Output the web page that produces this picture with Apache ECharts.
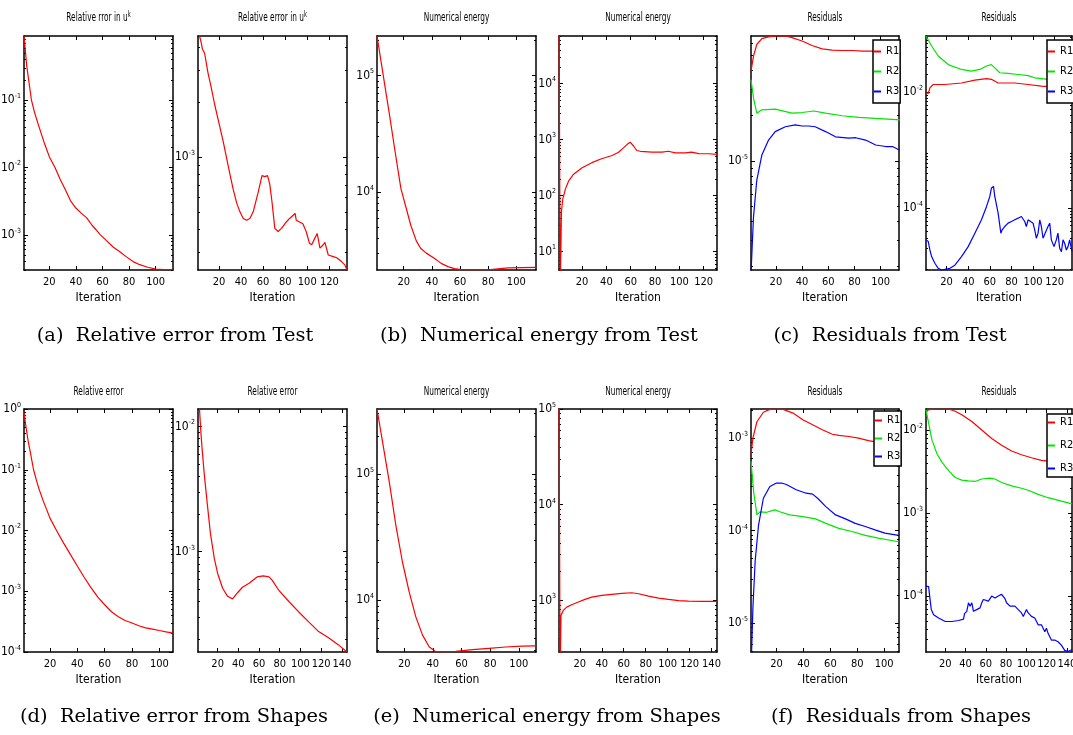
<!DOCTYPE html>
<html><head><meta charset="utf-8">
<script src="https://cdn.jsdelivr.net/npm/echarts@6/dist/echarts.min.js"></script>
<style>html,body{margin:0;padding:0;background:#fff}#c{width:1073px;height:735px}</style>
</head><body><div id="c"></div>
<script>
// ---------- tick labels ----------
const xTicksShort = [20, 40, 60, 80, 100];
const xTicksLong1 = [20, 40, 60, 80, 100, 120];
const xTicksLong2 = [20, 40, 60, 80, 100, 120, 140];
const yTicksA1 = [0.1, 0.01, 0.001];
const yTicksA2 = [0.001];
const yTicksB1 = [1e4, 1e5];
const yTicksB2 = [10, 100, 1000, 1e4];
const yTicksC1 = [1e-5];
const yTicksC2 = [0.01, 1e-4];
const yTicksD1 = [1, 0.1, 0.01, 0.001, 1e-4];
const yTicksD2 = [0.01, 0.001];
const yTicksE1 = [1e4, 1e5];
const yTicksE2 = [1e3, 1e4, 1e5];
const yTicksF1 = [1e-3, 1e-4, 1e-5];
const yTicksF2 = [1e-2, 1e-3, 1e-4];

// ---------- data: [iteration, value] ----------
const relErrTestL = [[1,0.9],[2,0.55],[3,0.33],[4.5,0.2],[6.6,0.1],[9,0.065],[12,0.042],[16,0.024],[20,0.0145],[24.3,0.01],[28,0.0068],[32,0.0047],[36,0.0032],[40,0.0025],[44,0.0021],[48,0.0018],[52,0.0014],[55,0.0012],[58.4,0.001],[63,0.00082],[68,0.00066],[73,0.00056],[78,0.00047],[83,0.0004],[88,0.00036],[94,0.00033],[100,0.00031],[106,0.000305],[113,0.0003]];
const relErrTestR = [[1,0.0052],[2.4,0.0046],[4,0.0042],[5,0.0039],[7,0.0037],[10,0.0029],[13,0.0024],[16,0.00195],[20,0.00153],[24,0.0012],[27,0.00098],[30,0.0008],[33,0.00066],[36,0.00056],[39,0.0005],[42,0.00046],[45,0.00045],[48,0.00046],[51,0.0005],[55.5,0.00064],[59,0.00079],[61.5,0.00078],[64,0.00079],[66,0.00071],[68,0.00057],[70.6,0.000406],[73.6,0.00039],[76.7,0.000406],[81,0.00044],[84,0.00046],[89,0.00049],[90,0.00045],[93,0.00044],[96,0.00043],[99,0.00039],[102,0.000336],[104,0.00033],[107,0.00036],[109,0.00038],[111.5,0.000316],[114.5,0.00033],[116,0.00034],[119,0.00029],[123.6,0.000284],[126.7,0.00028],[131,0.000267],[134,0.000256],[136,0.00024]];
const energyTestL = [[1,2.18e5],[4,1.29e5],[7,7.6e4],[10,4.5e4],[13,2.6e4],[16,1.52e4],[18,1.07e4],[22,7100],[25,5200],[29,3800],[32,3300],[36,3000],[42,2700],[46.6,2450],[51.4,2300],[56,2210],[61,2170],[68,2152],[75,2152],[80,2160],[87,2200],[94,2240],[103.6,2255],[114,2260]];
const energyTestR = [[1,2e5],[2,2],[3,51],[4.1,87],[6.3,132],[9,184],[13,242],[20,316],[28,388],[36,456],[44.7,522],[50,597],[54,713],[57.8,850],[59.7,897],[62.5,763],[65,640],[68,620],[77.5,597],[85.8,598],[91,620],[96.7,580],[105,580],[110,600],[116,565],[124,560],[131,545]];
const resTestL_R1 = [[1,3.94e-5],[2.9,4.96e-5],[5.4,5.93e-5],[9.3,6.48e-5],[14.4,6.66e-5],[19.5,6.75e-5],[27.2,6.75e-5],[32.3,6.58e-5],[40,6.25e-5],[47.6,5.84e-5],[55.3,5.55e-5],[63,5.44e-5],[70.6,5.41e-5],[78.3,5.41e-5],[86,5.36e-5],[93.7,5.36e-5],[101.3,5.3e-5],[114.6,5.22e-5]];
const resTestL_R2 = [[1,3.47e-5],[3,2.6e-5],[5.4,2.08e-5],[9.3,2.19e-5],[19.5,2.21e-5],[32.3,2.08e-5],[40,2.1e-5],[48.9,2.15e-5],[57.9,2.08e-5],[70.6,2.0e-5],[83.4,1.95e-5],[96.2,1.92e-5],[114.6,1.88e-5]];
const resTestL_R3 = [[1,1.8e-6],[2.9,4.26e-6],[5.4,7.47e-6],[9.3,1.1e-5],[14.4,1.38e-5],[19.5,1.57e-5],[27.2,1.69e-5],[34.8,1.74e-5],[40,1.71e-5],[41.2,1.75e-5],[45,1.71e-5],[50,1.69e-5],[57.9,1.57e-5],[65.5,1.45e-5],[75.8,1.42e-5],[80.9,1.43e-5],[88.5,1.38e-5],[96.2,1.28e-5],[103.9,1.25e-5],[109,1.25e-5],[114.6,1.18e-5]];
const resTestR_R1 = [[1,0.00974],[3.1,0.00949],[4.6,0.01188],[7.7,0.01357],[18.5,0.01357],[33.8,0.0144],[46.2,0.01613],[56.9,0.01716],[61.5,0.01664],[67.7,0.0144],[73.8,0.0144],[83.1,0.0144],[95.4,0.01357],[107.7,0.0127],[116.9,0.01232],[136,0.01103]];
const resTestR_R2 = [[1,0.093],[6.2,0.0625],[12.3,0.042],[21.5,0.0299],[33.8,0.02465],[43,0.0231],[50.8,0.02465],[56.9,0.02822],[61.5,0.0299],[64.6,0.02624],[69.2,0.02161],[76.9,0.02103],[86.2,0.02016],[95.4,0.01932],[101.5,0.01769],[107.7,0.01716],[113.8,0.01664],[136,0.01563]];
const resTestR_R3 = [[1,2.84e-5],[3.1,2.65e-5],[4.6,1.9e-5],[6.2,1.46e-5],[7.7,1.37e-5],[9.2,1.12e-5],[12.3,9.18e-6],[15.4,8.58e-6],[18.5,8.82e-6],[23.1,9.18e-6],[27.7,1.04e-5],[33.8,1.46e-5],[40,2.17e-5],[46.2,3.7e-5],[52.3,6.29e-5],[56.9,1.06e-4],[60,1.59e-4],[61.5,2.22e-4],[63.4,2.37e-4],[64.6,1.59e-4],[67.7,8.19e-5],[70.2,3.7e-5],[71.4,4.23e-5],[73.8,4.82e-5],[76.9,5.51e-5],[80,5.88e-5],[83.1,6.29e-5],[86.2,6.72e-5],[89.2,7.17e-5],[92.3,5.88e-5],[93.8,4.82e-5],[95.4,6.29e-5],[96.9,6.72e-5],[100,5.51e-5],[101.5,4.23e-5],[103,3.03e-5],[104.6,3.7e-5],[106.2,6.29e-5],[107.7,4.82e-5],[109.2,3.03e-5],[110.8,2.84e-5],[113.8,4.82e-5],[115.4,5.51e-5],[116.9,2.84e-5],[119.4,2.17e-5],[121.5,2.84e-5],[123,3.7e-5],[124.6,2.03e-5],[126.2,1.78e-5],[127.7,2.84e-5],[129.2,2.48e-5],[130.8,1.9e-5],[132.3,2.17e-5],[133.8,2.84e-5],[136,1.78e-5]];
const relErrShapesL = [[1,0.88],[2,0.6],[3,0.42],[4,0.3],[5.5,0.2],[8,0.1],[10,0.068],[12,0.048],[15,0.031],[20,0.016],[25,0.0098],[30,0.0062],[35,0.004],[40,0.0026],[45,0.0017],[50,0.00115],[55,0.0008],[60,0.0006],[65,0.00046],[70,0.00038],[75,0.00033],[80,0.0003],[85,0.00027],[90,0.00025],[95,0.000238],[100,0.000226],[105,0.000215],[110,0.000205]];
const relErrShapesR = [[1,0.03],[2,0.016],[3,0.0115],[4,0.0085],[5,0.0066],[7,0.0042],[10,0.0024],[13,0.0014],[16.8,0.00088],[20,0.00067],[24.8,0.00051],[29.6,0.00044],[34.4,0.00042],[39.2,0.00047],[44,0.00052],[50.4,0.00056],[58.4,0.00063],[64,0.00064],[69.6,0.00063],[72.8,0.00059],[79.2,0.00049],[88.8,0.0004],[98.4,0.00033],[108,0.000275],[117.6,0.00023],[127.2,0.000205],[136.8,0.00018],[145,0.000158]];
const energyShapesL = [[1,3.26e5],[4.9,1.78e5],[9.6,8.6e4],[14.2,3.9e4],[18.8,2.0e4],[23.5,1.16e4],[28.1,7400],[32.8,5300],[37.4,4290],[42,3920],[46.7,3900],[56,3950],[67.6,4070],[79.2,4170],[90.8,4270],[102,4340],[112,4360]];
const energyShapesR = [[1,2e5],[2,150],[2.8,697],[5,787],[8,851],[12.6,902],[18.7,961],[24.7,1024],[30.8,1083],[40,1128],[49,1155],[58.2,1183],[67.4,1202],[73.5,1174],[82.6,1109],[91.7,1058],[100.8,1024],[110,993],[119,985],[131.3,977],[145,975]];
const resShapesL_R1 = [[1,6.6e-4],[2.4,1e-3],[5.4,1.5e-3],[10.2,1.9e-3],[15,2.04e-3],[20,2.06e-3],[24.9,2.04e-3],[32.2,1.86e-3],[39.5,1.58e-3],[46.8,1.39e-3],[54,1.23e-3],[61.5,1.1e-3],[66.3,1.07e-3],[73.7,1.04e-3],[81,1.0e-3],[88.3,9.4e-4],[95.6,8.97e-4],[103,8.9e-4],[110.7,8.8e-4]];
const resShapesL_R2 = [[1,5.6e-4],[3,2.6e-4],[5.4,1.48e-4],[7.8,1.6e-4],[12.7,1.58e-4],[18.8,1.68e-4],[22.4,1.6e-4],[29.8,1.48e-4],[39.5,1.42e-4],[49,1.34e-4],[56.6,1.2e-4],[66.3,1.06e-4],[76,9.8e-5],[85.9,8.9e-5],[95.6,8.3e-5],[110.7,7.6e-5]];
const resShapesL_R3 = [[1,3e-6],[2.4,1.45e-5],[4.1,4.7e-5],[6.6,1.15e-4],[10.2,2.24e-4],[15,3e-4],[20,3.27e-4],[23.7,3.27e-4],[27.3,3.15e-4],[34.6,2.77e-4],[42,2.54e-4],[46.8,2.48e-4],[50.5,2.24e-4],[56.6,1.82e-4],[63.9,1.48e-4],[71.2,1.34e-4],[78.5,1.2e-4],[85.9,1.11e-4],[93.2,1.02e-4],[100.5,9.4e-5],[110.7,8.9e-5]];
const resShapesR_R1 = [[1,0.0163],[3.6,0.0176],[13.4,0.0179],[23.3,0.0179],[29.8,0.0168],[36.3,0.0153],[46.2,0.01265],[56,0.01],[65.8,0.0079],[75.6,0.00655],[85.4,0.00558],[95.2,0.00504],[105,0.00463],[114.9,0.0043],[130,0.0041],[145,0.0039]];
const resShapesR_R2 = [[1,0.0176],[3.6,0.0121],[6.9,0.00755],[11.8,0.00518],[16.7,0.0041],[23.3,0.00324],[29.8,0.00268],[36.3,0.00249],[42.9,0.00244],[49.4,0.0024],[56,0.00257],[64.2,0.00263],[69,0.00257],[75.6,0.00233],[85.4,0.00212],[95.2,0.00199],[101.8,0.00188],[111.6,0.00168],[121.4,0.00153],[134.5,0.00139],[145,0.00129]];
const resShapesR_R3 = [[1,1.32e-4],[3.6,1.3e-4],[4.6,1e-4],[6.2,6.9e-5],[8.5,5.97e-5],[13.4,5.43e-5],[20,4.94e-5],[26.5,4.94e-5],[33.1,5.08e-5],[38,5.27e-5],[39,6.13e-5],[41.2,6.55e-5],[42.9,8.3e-5],[44.5,7.55e-5],[46.2,8.3e-5],[47.8,6.55e-5],[51,6.87e-5],[54.3,7.2e-5],[56,8.3e-5],[57.6,9.1e-5],[59.2,9.5e-5],[62.5,8.7e-5],[65.8,1e-4],[69,9.5e-5],[72.3,1e-4],[75.6,1.05e-4],[77.2,1e-4],[78.9,9.3e-5],[80.5,8.3e-5],[82.2,8.5e-5],[83.8,7.55e-5],[85.4,7.9e-5],[88.7,7.55e-5],[92,6.87e-5],[95.2,6.26e-5],[96.9,5.69e-5],[98.5,5.97e-5],[100.1,6.87e-5],[101.8,6.26e-5],[105,5.69e-5],[108.3,5.43e-5],[110,4.94e-5],[111.6,4.5e-5],[114.9,4.5e-5],[116.5,4.1e-5],[118.2,3.72e-5],[119.8,4.1e-5],[121.4,3.56e-5],[124.7,2.95e-5],[128,2.95e-5],[131.2,2.82e-5],[134.5,2.57e-5],[137.8,2.22e-5],[141,2.15e-5],[145,2.27e-5]];

// ---------- layout ----------
const FONT = '"Liberation Sans Narrow","DejaVu Sans Condensed","Arial Narrow",sans-serif';
const RED = '#ff0000', GREEN = '#00e600', BLUE = '#0000ff';
const COLS = [[24,173],[198,347],[377,536],[559,717],[751,899],[926,1072]];
const ROWS = [[36,270],[409,652]];
const TITLE_Y = [18, 392];
const CAPTION_Y = [336, 717];

const panels = [
  {c:0,r:0,t:'Relative rror in u',sup:'k',xMax:113,xT:xTicksShort,yMin:3.0e-4,yMax:0.9,yT:yTicksA1,s:[['e',RED,relErrTestL]]},
  {c:1,r:0,t:'Relative error in u',sup:'k',xMax:136,xT:xTicksLong1,yMin:2.4e-4,yMax:4.6e-3,yT:yTicksA2,s:[['e',RED,relErrTestR]]},
  {c:2,r:0,t:'Numerical energy',xMax:114,xT:xTicksShort,yMin:2150,yMax:2.18e5,yT:yTicksB1,s:[['e',RED,energyTestL]]},
  {c:3,r:0,t:'Numerical energy',xMax:131,xT:xTicksLong1,yMin:4.7,yMax:7.1e4,yT:yTicksB2,s:[['e',RED,energyTestR]]},
  {c:4,r:0,t:'Residuals',xMax:114,xT:xTicksShort,yMin:1.9e-6,yMax:6.75e-5,yT:yTicksC1,s:[['R1',RED,resTestL_R1],['R2',GREEN,resTestL_R2],['R3',BLUE,resTestL_R3]],lg:{left:873,top:40,gap:9,pad:6}},
  {c:5,r:0,t:'Residuals',xMax:136,xT:xTicksLong1,yMin:8.58e-6,yMax:0.093,yT:yTicksC2,s:[['R1',RED,resTestR_R1],['R2',GREEN,resTestR_R2],['R3',BLUE,resTestR_R3]],lg:{left:1047,top:40,gap:9,pad:6}},
  {c:0,r:1,t:'Relative error',xMax:110,xT:xTicksShort,yMin:1e-4,yMax:1,yT:yTicksD1,s:[['e',RED,relErrShapesL]]},
  {c:1,r:1,t:'Relative error',xMax:145,xT:xTicksLong2,yMin:1.58e-4,yMax:0.0138,yT:yTicksD2,s:[['e',RED,relErrShapesR]]},
  {c:2,r:1,t:'Numerical energy',xMax:112,xT:xTicksShort,yMin:3900,yMax:3.26e5,yT:yTicksE1,s:[['e',RED,energyShapesL]]},
  {c:3,r:1,t:'Numerical energy',xMax:145,xT:xTicksLong2,yMin:289,yMax:1e5,yT:yTicksE2,s:[['e',RED,energyShapesR]]},
  {c:4,r:1,t:'Residuals',xMax:111,xT:xTicksShort,yMin:4.9e-6,yMax:2.06e-3,yT:yTicksF1,s:[['R1',RED,resShapesL_R1],['R2',GREEN,resShapesL_R2],['R3',BLUE,resShapesL_R3]],lg:{left:874,top:411,gap:7,pad:4}},
  {c:5,r:1,t:'Residuals',xMax:145,xT:xTicksLong2,yMin:2.12e-5,yMax:0.0179,yT:yTicksF2,s:[['R1',RED,resShapesR_R1],['R2',GREEN,resShapesR_R2],['R3',BLUE,resShapesR_R3]],lg:{left:1047,top:414,gap:12,pad:3}}
];
const captions = [
  ['(a)  Relative error from Test', 175, 0], ['(b)  Numerical energy from Test', 539, 0], ['(c)  Residuals from Test', 890, 0],
  ['(d)  Relative error from Shapes', 174, 1], ['(e)  Numerical energy from Shapes', 547, 1], ['(f)  Residuals from Shapes', 901, 1]
];

function minorTicks(lo, hi) {
  const out = [];
  for (let e = Math.floor(Math.log10(lo)); e <= Math.ceil(Math.log10(hi)); e++) {
    for (let k = 2; k <= 9; k++) { const v = k * Math.pow(10, e); if (v > lo && v < hi) out.push(v); }
  }
  return out;
}

const chart = echarts.init(document.getElementById('c'), null, {renderer: 'canvas'});
const option = {animation: false, backgroundColor: '#fff', grid: [], xAxis: [], yAxis: [], series: [], legend: [], graphic: []};
const lineCol = {color: '#000', width: 1.5};
const tickCol = {color: '#000', width: 1};

panels.forEach((p, i) => {
  const [x0, x1] = COLS[p.c], [y0, y1] = ROWS[p.r];
  option.grid.push({left: x0, top: y0, width: x1 - x0, height: y1 - y0, containLabel: false, outerBoundsMode: 'none', show: false});
  const xb = option.xAxis.length;
  ['bottom', 'top'].forEach((pos, k) => option.xAxis.push({
    gridIndex: i, type: 'value', position: pos, min: 1, max: p.xMax,
    axisLine: {show: true, onZero: false, lineStyle: lineCol},
    axisTick: {show: true, inside: true, length: 4, customValues: p.xT, lineStyle: tickCol},
    axisLabel: {show: k === 0, customValues: p.xT, margin: 7, fontSize: 11, color: '#000', fontFamily: FONT, hideOverlap: false},
    splitLine: {show: false}, minorTick: {show: false},
    name: k === 0 ? 'Iteration' : '', nameLocation: 'middle', nameGap: 22,
    nameTextStyle: {fontSize: 12, color: '#000', fontFamily: FONT}
  }));
  const yb = option.yAxis.length;
  const minors = minorTicks(p.yMin, p.yMax);
  const yBase = {gridIndex: i, type: 'log', logBase: 10, min: p.yMin, max: p.yMax, splitLine: {show: false}, minorTick: {show: false}};
  ['left', 'right'].forEach((pos, k) => option.yAxis.push(Object.assign({}, yBase, {
    position: pos,
    axisLine: {show: true, onZero: false, lineStyle: lineCol},
    axisTick: {show: true, inside: true, length: 4, customValues: p.yT, lineStyle: tickCol},
    axisLabel: {show: k === 0, customValues: p.yT, margin: 3, color: '#000',
      formatter: v => '{b|10}{s|' + Math.round(Math.log10(v)) + '}',
      rich: {b: {fontSize: 12, fontFamily: FONT, color: '#000', lineHeight: 15},
             s: {fontSize: 7, fontFamily: FONT, color: '#000', lineHeight: 8, verticalAlign: 'top'}}}
  })));
  if (minors.length) ['left', 'right'].forEach(pos => option.yAxis.push(Object.assign({}, yBase, {
    position: pos, axisLine: {show: false},
    axisTick: {show: true, inside: true, length: 2, customValues: minors, lineStyle: tickCol},
    axisLabel: {show: false}
  })));
  p.s.forEach(([name, color, data]) => option.series.push({
    type: 'line', name: name, xAxisIndex: xb, yAxisIndex: yb, data: data,
    symbol: 'none', showSymbol: false, clip: true, smooth: false,
    lineStyle: {color: color, width: 1.2}, itemStyle: {color: color}, z: 3, silent: true
  }));
  if (p.lg) option.legend.push({
    left: p.lg.left, top: p.lg.top, orient: 'vertical', data: ['R1', 'R2', 'R3'],
    icon: 'rect', itemWidth: 7, itemHeight: 2, itemGap: p.lg.gap, selectedMode: false,
    backgroundColor: '#fff', borderColor: '#000', borderWidth: 1.5, borderRadius: 0, padding: [p.lg.pad, 1, p.lg.pad, 1],
    textStyle: {fontSize: 11, color: '#000', fontFamily: FONT}, z: 10
  });
  const cx = (x0 + x1) / 2;
  const txt = p.sup ? '{t|' + p.t + '}{s|' + p.sup + '}' : '{t|' + p.t + '}';
  option.graphic.push({type: 'text', x: cx, y: TITLE_Y[p.r], scaleX: 0.63, scaleY: 1.0, style: {text: txt, align: 'center', verticalAlign: 'middle',
    rich: {t: {fontSize: 13, fontFamily: FONT, fill: '#000', lineHeight: 16}, s: {fontSize: 9, fontFamily: FONT, fill: '#000', lineHeight: 10, verticalAlign: 'top'}}}});
});
captions.forEach(([t, cx, r]) => option.graphic.push({type: 'text', x: cx, y: CAPTION_Y[r], scaleX: 1.08,
  style: {text: t, align: 'center', verticalAlign: 'middle', fontSize: 18, fontFamily: '"DejaVu Serif", serif', fill: '#000'}}));

chart.setOption(option);
</script></body></html>
